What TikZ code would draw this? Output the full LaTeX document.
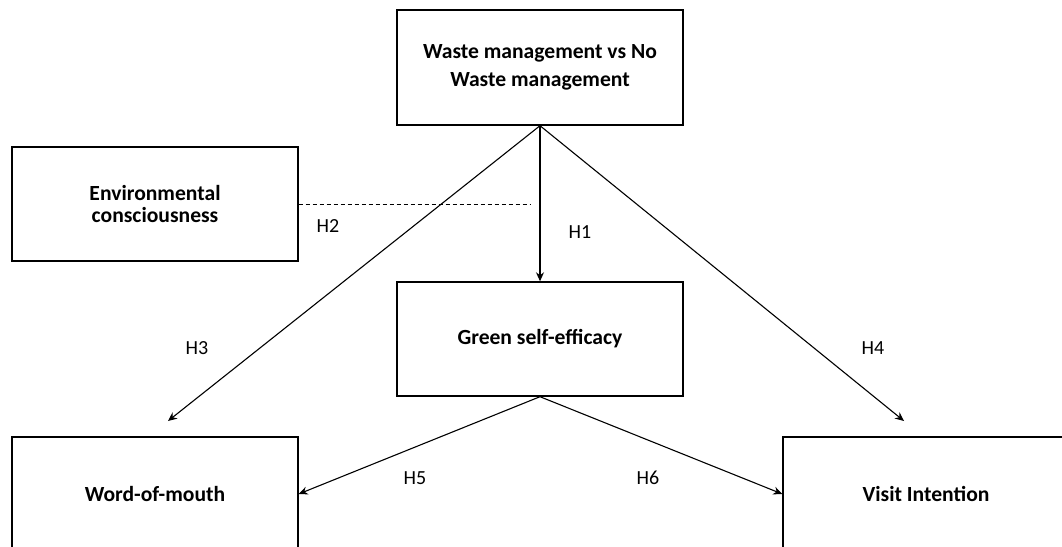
\documentclass[tikz,border=0pt]{standalone}
\usepackage{fontspec}
\setmainfont{Carlito}
\usetikzlibrary{arrows.meta}
\tikzset{
  box/.style={draw, line width=1.4pt, rectangle, minimum width=286pt, minimum height=114pt, inner sep=0pt, align=center, font=\fontsize{21.6}{28.5}\selectfont\bfseries},
  hlab/.style={font=\fontsize{20}{24}\selectfont, inner sep=0pt},
  conn/.style={line width=1.1pt, -{Stealth[length=9pt,width=8pt]}},
}
\begin{document}
\begin{tikzpicture}[x=1pt,y=-1pt]
\useasboundingbox (0,0) rectangle (1062,546);
\clip (0,0) rectangle (1062,546);
\node[box, minimum height=115pt] (top) at (540,67.5) {Waste management vs No\\Waste management};
\node[box, font=\fontsize{21.6}{22}\selectfont\bfseries] (env) at (155,204) {Environmental\\consciousness};
\node[box] (gse) at (540,339) {Green self-efficacy};
\node[box] (wom) at (155,494) {Word-of-mouth};
\node[box] (vi) at (926,494) {Visit Intention};
\coordinate (h3end) at (168,421);
\coordinate (h4end) at (904,421);
\coordinate (dend) at (530,204);
\draw[conn] (top.south) -- (h3end);
\draw[conn] (top.south) -- (h4end);
\draw[conn] (top.south) -- (gse.north);
\draw[conn] (gse.south) -- (wom.east);
\draw[conn] (gse.south) -- (vi.west);
\draw[line width=1pt, dash pattern=on 4pt off 3pt] (env.east) -- (dend);
\node[hlab] (l1) at (580,232) {H1};
\node[hlab] (l2) at (328,226) {H2};
\node[hlab] (l3) at (197,348) {H3};
\node[hlab] (l4) at (873,348) {H4};
\node[hlab] (l5) at (415,478) {H5};
\node[hlab] (l6) at (648,478) {H6};
\end{tikzpicture}
\end{document}
